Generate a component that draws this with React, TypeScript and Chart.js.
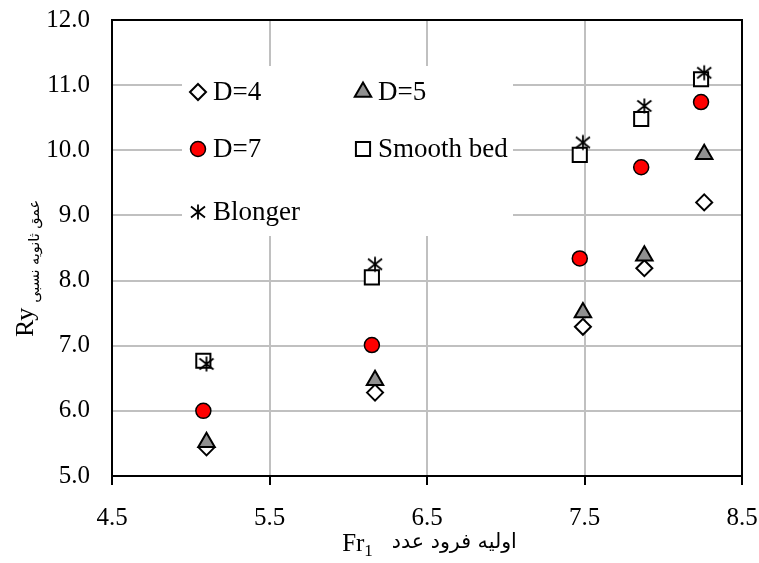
import React, { useEffect, useRef } from "react";
import { Chart, registerables } from "chart.js";

Chart.register(...registerables);

// ---- data ----
const xTickValues = [4.5, 5.5, 6.5, 7.5, 8.5];
const yMin = 5;
const yMax = 12;

const d4X = [5.1, 6.17, 7.49, 7.88, 8.26];
const d4Y = [5.44, 6.28, 7.29, 8.19, 9.2];
const d5X = [5.1, 6.17, 7.49, 7.88, 8.26];
const d5Y = [5.52, 6.47, 7.51, 8.38, 9.94];
const d7X = [5.08, 6.15, 7.47, 7.86, 8.24];
const d7Y = [6.0, 7.01, 8.34, 9.74, 10.74];
const smoothX = [5.08, 6.15, 7.47, 7.86, 8.24];
const smoothY = [6.77, 8.05, 9.93, 10.48, 11.09];
const blongerX = [5.1, 6.17, 7.49, 7.88, 8.26];
const blongerY = [6.72, 8.25, 10.12, 10.68, 11.19];

const legendLabels = ["D=4", "D=5", "D=7", "Smooth bed", "Blonger"];
const xTitleMain = "Fr";
const xTitleSub = "1";
const xTitleFa = "اولیه فرود عدد";
const yTitleMain = "Ry";
const yTitleFa = "عمق ثانویه نسبی";

const SERIF = "'Liberation Serif', 'Times New Roman', serif";
const FA = "'DejaVu Sans', sans-serif";

function makeAsterisk(): HTMLCanvasElement {
  const c = document.createElement("canvas");
  c.width = 18;
  c.height = 18;
  const g = c.getContext("2d")!;
  g.strokeStyle = "#000";
  g.lineWidth = 1.8;
  g.beginPath();
  g.moveTo(9, 1.5);
  g.lineTo(9, 16.5);
  g.moveTo(2, 3.5);
  g.lineTo(16, 14.5);
  g.moveTo(2, 14.5);
  g.lineTo(16, 3.5);
  g.stroke();
  return c;
}

function pts(xs: number[], ys: number[]) {
  return xs.map((x, i) => ({ x, y: ys[i] }));
}

export default function App() {
  const ref = useRef<HTMLCanvasElement | null>(null);

  useEffect(() => {
    document.body.style.margin = "0";
    const canvas = ref.current!;
    const asterisk = makeAsterisk();

    const styles = [
      { pointStyle: "rectRot" as any, radius: 8, bg: "#ffffff", bw: 2 },
      { pointStyle: "triangle" as any, radius: 9.5, bg: "#909090", bw: 2 },
      { pointStyle: "circle" as any, radius: 7.5, bg: "#ff0000", bw: 1.5 },
      { pointStyle: "rect" as any, radius: 10, bg: "#ffffff", bw: 2 },
      { pointStyle: asterisk as any, radius: 9, bg: "#000000", bw: 0 },
    ];

    const series = [
      pts(d4X, d4Y),
      pts(d5X, d5Y),
      pts(d7X, d7Y),
      pts(smoothX, smoothY),
      pts(blongerX, blongerY),
    ];

    const datasets = series.map((data, i) => ({
      label: legendLabels[i],
      data,
      pointStyle: styles[i].pointStyle,
      pointRadius: styles[i].radius,
      pointBackgroundColor: styles[i].bg,
      pointBorderColor: "#000000",
      pointBorderWidth: styles[i].bw,
      showLine: false,
      order: 5 - i,
    }));

    const markerPath = (ctx: CanvasRenderingContext2D, st: string, r: number, x: number, y: number) => {
      ctx.beginPath();
      if (st === "rectRot") {
        ctx.moveTo(x, y - r);
        ctx.lineTo(x + r, y);
        ctx.lineTo(x, y + r);
        ctx.lineTo(x - r, y);
        ctx.closePath();
      } else if (st === "triangle") {
        ctx.moveTo(x, y - r);
        ctx.lineTo(x + r * Math.sin(Math.PI / 3), y + r / 2);
        ctx.lineTo(x - r * Math.sin(Math.PI / 3), y + r / 2);
        ctx.closePath();
      } else if (st === "circle") {
        ctx.arc(x, y, r, 0, Math.PI * 2);
      } else if (st === "rect") {
        const h = r * Math.SQRT1_2;
        ctx.rect(x - h, y - h, 2 * h, 2 * h);
      }
    };

    const drawMarker = (ctx: CanvasRenderingContext2D, i: number, x: number, y: number) => {
      const s = styles[i];
      ctx.save();
      if (i === 4) {
        ctx.drawImage(asterisk, x - 9, y - 9);
      } else {
        ctx.fillStyle = s.bg;
        ctx.strokeStyle = "#000";
        ctx.lineWidth = s.bw;
        markerPath(ctx, s.pointStyle, s.radius, x, y);
        ctx.fill();
        ctx.stroke();
      }
      ctx.restore();
    };

    const fitFont = (ctx: CanvasRenderingContext2D, text: string, target: number) => {
      ctx.font = `20px ${FA}`;
      const w = ctx.measureText(text).width;
      return (20 * target) / w;
    };

    const decor = {
      id: "decor",
      afterDatasetsDraw(chart: any) {
        const ctx: CanvasRenderingContext2D = chart.ctx;
        const a = chart.chartArea;
        ctx.save();
        ctx.fillStyle = "#ffffff";
        ctx.fillRect(a.left + 70, a.top + 46, 331, 170);
        const col1 = a.left + 86;
        const col2 = a.left + 251;
        const rows = [a.top + 72, a.top + 129, a.top + 192];
        const pos = [
          [col1, rows[0]],
          [col2, rows[0]],
          [col1, rows[1]],
          [col2, rows[1]],
          [col1, rows[2]],
        ];
        pos.forEach((p, i) => {
          drawMarker(ctx, i, p[0], p[1]);
          ctx.fillStyle = "#000";
          ctx.font = `27px ${SERIF}`;
          ctx.textBaseline = "middle";
          ctx.textAlign = "left";
          ctx.fillText(legendLabels[i], p[0] + 15, p[1] + 1);
        });
        ctx.strokeStyle = "#000";
        ctx.lineWidth = 2;
        ctx.strokeRect(a.left, a.top, a.right - a.left, a.bottom - a.top);
        ctx.restore();
      },
      afterDraw(chart: any) {
        const ctx: CanvasRenderingContext2D = chart.ctx;
        const a = chart.chartArea;
        ctx.save();
        ctx.fillStyle = "#000";
        ctx.textBaseline = "alphabetic";
        ctx.textAlign = "left";
        // X title
        const faX = fitFont(ctx, xTitleFa, 125);
        ctx.font = `25px ${SERIF}`;
        const wFr = ctx.measureText(xTitleMain).width;
        ctx.font = `17px ${SERIF}`;
        const wSub = ctx.measureText(xTitleSub).width;
        const gap = 19;
        const total = wFr + wSub + gap + 125;
        const cx = (a.left + a.right) / 2 + 2.5;
        const x0 = cx - total / 2;
        const by = 551;
        ctx.font = `25px ${SERIF}`;
        ctx.fillText(xTitleMain, x0, by);
        ctx.font = `17px ${SERIF}`;
        ctx.fillText(xTitleSub, x0 + wFr, by + 5);
        ctx.font = `${faX}px ${FA}`;
        ctx.fillText(xTitleFa, x0 + wFr + wSub + gap, by - 3);

        // Y title (rotated)
        const faY = fitFont(ctx, yTitleFa, 103);
        ctx.font = `26px ${SERIF}`;
        const wRy = ctx.measureText(yTitleMain).width;
        ctx.translate(33, 337);
        ctx.rotate(-Math.PI / 2);
        ctx.font = `26px ${SERIF}`;
        ctx.fillText(yTitleMain, 0, 0);
        ctx.font = `${faY}px ${FA}`;
        ctx.fillText(yTitleFa, wRy + 5, 6);
        ctx.restore();
      },
    };

    const chart = new Chart(canvas, {
      type: "scatter",
      data: { datasets },
      options: {
        animation: false,
        responsive: false,
        maintainAspectRatio: false,
        layout: { autoPadding: false, padding: { left: 0, top: 20, right: 17, bottom: 0 } } as any,
        plugins: {
          legend: { display: false },
          tooltip: { enabled: false },
          title: { display: false },
        },
        scales: {
          x: {
            type: "linear",
            min: xTickValues[0],
            max: xTickValues[xTickValues.length - 1],
            afterBuildTicks: (s: any) => {
              s.ticks = xTickValues.map((v) => ({ value: v }));
            },
            afterFit: (s: any) => {
              s.height = 87;
              s.paddingLeft = 0;
              s.paddingRight = 0;
            },
            grid: {
              color: "#c0c0c0",
              lineWidth: 2,
              drawTicks: true,
              tickLength: 9,
              tickColor: "#000",
              tickWidth: 2,
            },
            border: { display: true, color: "#000", width: 2 },
            ticks: {
              color: "#000",
              font: { family: SERIF, size: 25 },
              padding: 18,
              callback: (v: any) => Number(v).toFixed(1),
              maxRotation: 0,
            },
          },
          y: {
            type: "linear",
            min: yMin,
            max: yMax,
            afterFit: (s: any) => {
              s.width = 112;
              s.paddingTop = 0;
              s.paddingBottom = 0;
            },
            grid: { color: "#c0c0c0", lineWidth: 2, drawTicks: false },
            border: { display: true, color: "#000", width: 2 },
            ticks: {
              stepSize: 1,
              color: "#000",
              font: { family: SERIF, size: 25 },
              padding: 22,
              callback: (v: any) => Number(v).toFixed(1),
            },
          },
        },
      },
      plugins: [decor],
    });

    return () => chart.destroy();
  }, []);

  return (
    <div style={{ width: 759, height: 563, background: "#fff" }}>
      <canvas ref={ref} width={759} height={563} style={{ display: "block" }} />
    </div>
  );
}
